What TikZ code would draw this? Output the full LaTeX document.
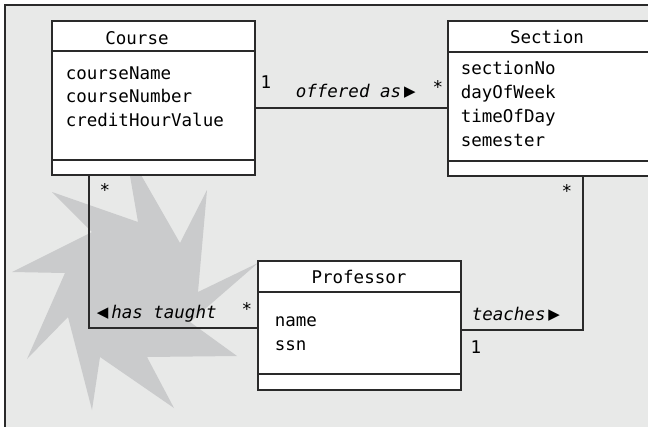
\documentclass[tikz,border=0pt]{standalone}
\usepackage{fontspec}
\usepackage{xcolor}
\usepackage{tikz}
\usetikzlibrary{positioning, calc}
\newfontfamily\umlfont{DejaVu Sans Mono}
\newfontfamily\symfont{DejaVu Sans}
\definecolor{panelgray}{HTML}{E8E9E8}
\definecolor{stargray}{HTML}{CACBCC}
\definecolor{linegray}{HTML}{2A2A2A}
\newcommand{\rtri}{{\upshape\symfont\fontsize{15}{15}\selectfont\raisebox{1pt}{▶}}}
\newcommand{\ltri}{{\upshape\symfont\fontsize{15}{15}\selectfont\raisebox{1pt}{◀}}}

\begin{document}
\begin{tikzpicture}[x=1pt, y=-1pt, line width=1.6pt]
        \tikzstyle{class_box} = [rectangle, draw=linegray, fill=white, inner sep=0pt, minimum width=203pt]
        \tikzstyle{title_text} = [inner sep=0pt, anchor=base, text=black, font=\umlfont\fontsize{17.5}{20}\selectfont]
        \tikzstyle{attr_text} = [inner sep=0pt, anchor=base west, text=black, font=\umlfont\fontsize{17.5}{20}\selectfont]
        \tikzstyle{assoc_line} = [draw=linegray, line width=1.6pt]
        \tikzstyle{role_text} = [inner sep=0pt, anchor=base west, text=black, font=\umlfont\itshape\fontsize{17.5}{20}\selectfont]
        \tikzstyle{mult_text} = [inner sep=0pt, anchor=base, text=black, font=\umlfont\fontsize{17.5}{20}\selectfont]

        \useasboundingbox (0,0) rectangle (648,426);
        \clip (0,0) rectangle (648,426);

        % Panel
        \fill[panelgray] (5,5) rectangle (660,440);
        \draw[linegray] (5,5) rectangle (660,440);

        % Starburst behind the classes
        \fill[stargray] (125,147) -- (180,243) -- (207,190) -- (198,292) -- (258,263)
            -- (190,322) -- (237,356) -- (147,357) -- (174,408) -- (100,357)
            -- (92,410) -- (68,317) -- (27,359) -- (65,273) -- (12,272)
            -- (92,232) -- (52,192) -- (138,222) -- cycle;

        % Classes
        \node (course) [class_box, minimum height=154pt] at (153.5,98) {};
        \node (section) [class_box, minimum height=155pt] at (549.5,98.5) {};
        \node (professor) [class_box, minimum height=129pt] at (359.5,325.5) {};

        % Compartments
        \draw[linegray] ([yshift=-31pt]course.north west) -- ([yshift=-31pt]course.north east);
        \draw[linegray] ([yshift=16pt]course.south west) -- ([yshift=16pt]course.south east);
        \draw[linegray] ([yshift=-32pt]section.north west) -- ([yshift=-32pt]section.north east);
        \draw[linegray] ([yshift=16pt]section.south west) -- ([yshift=16pt]section.south east);
        \draw[linegray] ([yshift=-32pt]professor.north west) -- ([yshift=-32pt]professor.north east);
        \draw[linegray] ([yshift=17pt]professor.south west) -- ([yshift=17pt]professor.south east);

        % Class names
        \node (course_name) [title_text] at (137,44) {Course};
        \node (section_name) [title_text] at (547,43) {Section};
        \node (professor_name) [title_text] at (359,283) {Professor};

        % Attributes
        \foreach \attr [count=\i] in {courseName, courseNumber, creditHourValue}
            \node (course_attr\i) [attr_text] at (65,{55.5+23.5*\i}) {\attr};
        \foreach \attr [count=\i] in {sectionNo, dayOfWeek, timeOfDay, semester}
            \node (section_attr\i) [attr_text] at (460,{50+24*\i}) {\attr};
        \foreach \attr [count=\i] in {name, ssn}
            \node (professor_attr\i) [attr_text] at (274,{302+24*\i}) {\attr};

        % Associations
        \draw [assoc_line] ([yshift=-10pt]course.east) -- ([yshift=-9.5pt]section.west);
        \draw [assoc_line] ([xshift=-64.5pt]course.south) |- ([yshift=-2.5pt]professor.west);
        \draw [assoc_line] ([yshift=-4.5pt]professor.east) -| ([xshift=33.5pt]section.south);

        % Role names
        \node (offered) [role_text] at (295,97) {offered as\,\rtri};
        \node (taught) [role_text] at (96,318) {\ltri\,has taught};
        \node (teaches) [role_text] at (471,320) {teaches\,\rtri};

        % Multiplicities
        \node (mult_c1) [mult_text] at (266,88) {1};
        \node (mult_s1) [mult_text] at (438,93.5) {*};
        \node (mult_c2) [mult_text] at (105,196) {*};
        \node (mult_p1) [mult_text] at (247,315) {*};
        \node (mult_p2) [mult_text] at (476,353) {1};
        \node (mult_s2) [mult_text] at (567,197) {*};
    \end{tikzpicture}
\end{document}
